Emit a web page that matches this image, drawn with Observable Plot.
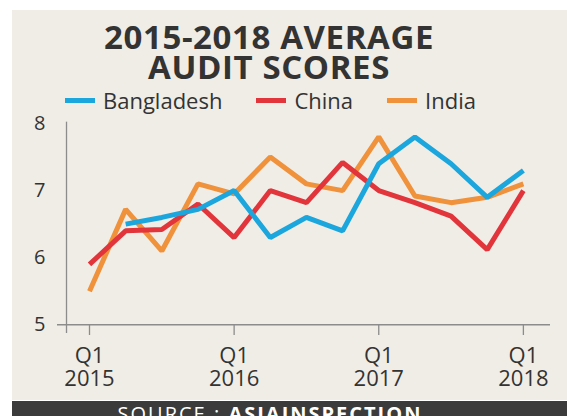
<!DOCTYPE html>
<html>
<head>
<meta charset="utf-8">
<script src="https://cdn.jsdelivr.net/npm/d3@7"></script>
<script src="https://cdn.jsdelivr.net/npm/@observablehq/plot@0.6"></script>
<style>
  html, body { margin: 0; padding: 0; background: #ffffff; }
  #page { position: relative; width: 567px; height: 416px; overflow: hidden; font-family: "Open Sans", sans-serif; color: #333; }
  #panel { position: absolute; left: 12px; top: 10px; width: 555px; height: 390px; background: #f0ede6; }
  #chart { position: absolute; left: 0; top: 0; }
  #title { position: absolute; left: 0; top: 22px; width: 538px; text-align: center; font-weight: 700; font-size: 33px; line-height: 30px; color: #333; letter-spacing: 0.6px; }
  #legend { position: absolute; left: 65px; top: 88px; display: flex; align-items: center; font-size: 22px; line-height: 24px; color: #333; }
  .item { display: flex; align-items: center; margin-right: 34px; }
  .sw { width: 30px; height: 5px; margin-right: 8px; }
  #bar { position: absolute; left: 12px; top: 401px; width: 555px; height: 15px; background: #3b3b3b; overflow: hidden; }
  #src { position: absolute; left: -12px; top: 3px; width: 540px; text-align: center; color: #fff; font-size: 20px; line-height: 20px; letter-spacing: 2px; white-space: nowrap; }
</style>
</head>
<body>
<div id="page">
  <div id="panel"></div>
  <div id="chart"></div>
  <div id="title">2015-2018 AVERAGE<br>AUDIT SCORES</div>
  <div id="legend"></div>
  <div id="bar"><div id="src">SOURCE : <b>ASIAINSPECTION</b></div></div>
</div>
<script>
// Data (quarter index 0 = Q1 2015 ... 12 = Q1 2018)
const quarters = ["Q1 2015","Q2 2015","Q3 2015","Q4 2015","Q1 2016","Q2 2016","Q3 2016","Q4 2016","Q1 2017","Q2 2017","Q3 2017","Q4 2017","Q1 2018"];
const bangladesh = [null, 6.5, 6.6, 6.72, 7.0, 6.3, 6.6, 6.4, 7.4, 7.8, 7.4, 6.9, 7.3];
const china      = [5.9, 6.4, 6.42, 6.8, 6.3, 7.0, 6.82, 7.42, 7.0, 6.82, 6.62, 6.12, 7.0];
const india      = [5.5, 6.72, 6.1, 7.1, 6.95, 7.5, 7.1, 7.0, 7.8, 6.92, 6.82, 6.9, 7.1];
const seriesNames = ["Bangladesh", "China", "India"];
const seriesColors = ["#1ba6dd", "#e2353b", "#f0913b"];
const yTicks = [5, 6, 7, 8];
const xTickIdx = [0, 4, 8, 12];
const xTickLabels = ["Q1\n2015", "Q1\n2016", "Q1\n2017", "Q1\n2018"];

const toRows = (vals, name) => vals.map((v, i) => ({i, q: quarters[i], v, name})).filter(d => d.v != null);
const rowsB = toRows(bangladesh, "Bangladesh");
const rowsC = toRows(china, "China");
const rowsI = toRows(india, "India");

const axisColor = "#8c8c8c";
const chart = Plot.plot({
  width: 567,
  height: 416,
  marginLeft: 57,
  marginRight: 17,
  marginTop: 123,
  marginBottom: 81,
  style: { background: "transparent", fontFamily: "Open Sans, sans-serif", color: "#333" },
  x: { domain: [-0.885, 12.75], label: null },
  y: { domain: [4.84, 8], label: null },
  marks: [
    Plot.ruleY([5], { stroke: axisColor, strokeWidth: 1.3 }),
    Plot.ruleX([-0.636], { y1: 4.87, y2: 8.02, stroke: axisColor, strokeWidth: 1.3 }),
    Plot.ruleX(xTickIdx, { y1: 5, y2: 4.84, stroke: axisColor, strokeWidth: 1.3 }),
    Plot.axisY(yTicks, { tickSize: 0, tickPadding: 12, fontSize: 20, label: null, fill: "#333", tickFormat: d => String(d) }),
    Plot.axisX(xTickIdx, { tickSize: 0, tickPadding: 11, fontSize: 22, lineHeight: 1.04, label: null, fill: "#333",
      tickFormat: d => xTickLabels[xTickIdx.indexOf(d)] }),
    Plot.line(rowsI, { x: "i", y: "v", stroke: seriesColors[2], strokeWidth: 5, strokeLinejoin: "miter", strokeLinecap: "butt" }),
    Plot.line(rowsC, { x: "i", y: "v", stroke: seriesColors[1], strokeWidth: 5, strokeLinejoin: "miter", strokeLinecap: "butt" }),
    Plot.line(rowsB, { x: "i", y: "v", stroke: seriesColors[0], strokeWidth: 5, strokeLinejoin: "miter", strokeLinecap: "butt" })
  ]
});
document.getElementById("chart").appendChild(chart);

const legend = document.getElementById("legend");
seriesNames.forEach((n, k) => {
  const it = document.createElement("div");
  it.className = "item";
  const sw = document.createElement("span");
  sw.className = "sw";
  sw.style.background = seriesColors[k];
  const tx = document.createElement("span");
  tx.textContent = n;
  it.appendChild(sw); it.appendChild(tx);
  legend.appendChild(it);
});
</script>
</body>
</html>
